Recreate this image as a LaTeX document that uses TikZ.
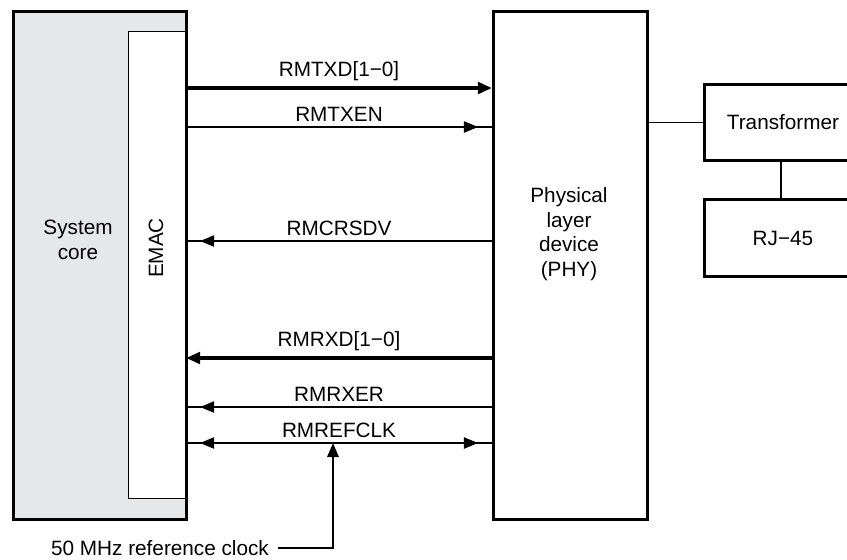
\documentclass[tikz,border=0pt]{standalone}
\usepackage{fontspec}
\setmainfont{Liberation Sans}
\usetikzlibrary{arrows.meta}

\definecolor{coregray}{RGB}{230,231,232}

\begin{document}
\begin{tikzpicture}[>={Triangle[length=8pt,width=6.5pt]},x=0.02cm,y=-0.02cm,
		every node/.style={font=\fontsize{11.8}{14}\selectfont},
		blk/.style={draw,line width=1.7pt,anchor=north west,inner sep=0pt},
		sig/.style={line width=0.6pt},
		bus/.style={line width=2.3pt},
		siglab/.style={above,inner sep=3pt}]
		\useasboundingbox (0,0) rectangle (847,559);
		\clip (0,0) rectangle (847,559);
		% blocks
		\node[blk,fill=coregray,minimum width=3.46cm,minimum height=10.16cm] (core) at (12,10) {};
		\node[draw,sig,fill=white,anchor=north west,minimum width=1.14cm,minimum height=9.34cm] (emac) at (128,31) {};
		\node[blk,minimum width=3.08cm,minimum height=10.16cm] (phy) at (492,10) {};
		\node[blk,minimum width=3.14cm,minimum height=1.52cm] (trans) at (703,83) {};
		\node[blk,minimum width=3.14cm,minimum height=1.54cm] (rj) at (703,198) {};
		\node[align=center] (corelab) at (78,240) {System\\core};
		\node[rotate=90] (emaclab) at (156,248) {EMAC};
		\node[align=center] (phylab) at (569,234) {Physical\\layer\\device\\(PHY)};
		\node (translab) at (trans.center) {Transformer};
		\node (rjlab) at (rj.center) {RJ−45};
		\draw[sig] (phy.east |- trans.west) -- (trans.west);
		\draw[sig] (trans.south -| 781,0) -- (rj.north -| 781,0);
		% transmit side
		\draw[bus,->] (emac.east |- 0,88) -- (phy.west |- 0,88) node[midway,siglab] {RMTXD[1−0]};
		\draw[sig] (emac.east |- 0,127) -- (phy.west |- 0,127) node[midway,siglab] {RMTXEN};
		\draw[sig,->,shorten >=8pt] (emac.east |- 0,127) -- (phy.west |- 0,127);
		% receive side
		\draw[sig] (phy.west |- 0,241) -- (emac.east |- 0,241) node[midway,siglab] {RMCRSDV};
		\draw[sig,->,shorten >=8pt] (phy.west |- 0,241) -- (emac.east |- 0,241);
		\draw[bus,->] (phy.west |- 0,358) -- (emac.east |- 0,358) node[midway,siglab] {RMRXD[1−0]};
		\draw[sig] (phy.west |- 0,407) -- (emac.east |- 0,407) node[midway,siglab] {RMRXER};
		\draw[sig,->,shorten >=8pt] (phy.west |- 0,407) -- (emac.east |- 0,407);
		\draw[sig] (emac.east |- 0,443) -- (phy.west |- 0,443) node[midway,siglab] {RMREFCLK};
		\draw[sig,<->,shorten >=8pt,shorten <=8pt] (emac.east |- 0,443) -- (phy.west |- 0,443);
		% reference clock
		\node[inner sep=2pt] (clk) at (160,548) {50 MHz reference clock};
		\coordinate (tap) at (333,443);
		\draw[line width=1.1pt,->] ([xshift=3pt]clk.east) -| (tap);
		
		
		\end{tikzpicture}
\end{document}
